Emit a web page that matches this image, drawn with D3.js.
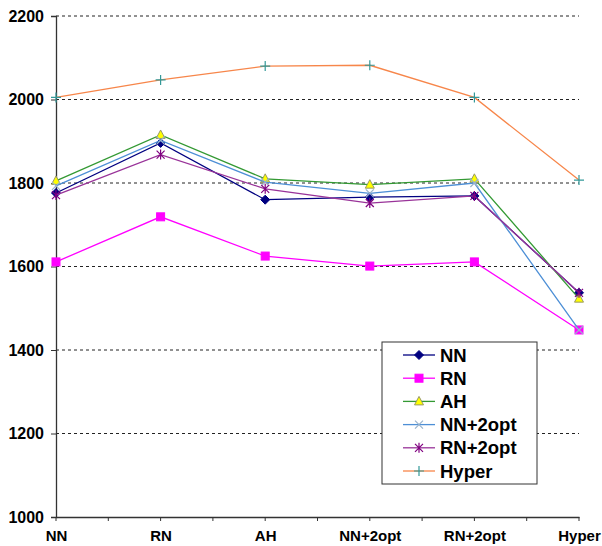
<!DOCTYPE html>
<meta charset="utf-8">
<script src="https://d3js.org/d3.v7.min.js"></script>
<style>
  body { margin: 0; background: #fff; }
  text { font-family: "Liberation Sans", Arial, sans-serif; font-weight: bold; fill: #000; }
</style>
<div id="chart"></div>
<script>
// categories along the x axis
var categories = ["NN", "RN", "AH", "NN+2opt", "RN+2opt", "Hyper"];
var yTicks = [1000, 1200, 1400, 1600, 1800, 2000, 2200];

// series values
var nnVals      = [1776, 1896, 1760, 1766, 1769, 1537];
var rnVals      = [1611, 1719, 1625, 1601, 1611, 1448];
var ahVals      = [1805, 1915, 1810, 1796, 1810, 1523];
var nn2optVals  = [1793, 1902, 1802, 1775, 1800, 1448];
var rn2optVals  = [1771, 1868, 1786, 1752, 1769, 1537];
var hyperVals   = [2005, 2047, 2080, 2082, 2005, 1807];

var series = [
  {name: "NN",      values: nnVals,     line: "#000080", marker: "diamond",  fill: "#000080", stroke: "#000080"},
  {name: "RN",      values: rnVals,     line: "#ff00ff", marker: "square",   fill: "#ff00ff", stroke: "#ff00ff"},
  {name: "AH",      values: ahVals,     line: "#339933", marker: "triangle", fill: "#ffff00", stroke: "#999966"},
  {name: "NN+2opt", values: nn2optVals, line: "#4d8fd6", marker: "x",        fill: "none",    stroke: "#99b3cc"},
  {name: "RN+2opt", values: rn2optVals, line: "#993399", marker: "star",     fill: "none",    stroke: "#800080"},
  {name: "Hyper",   values: hyperVals,  line: "#f7864a", marker: "plus",     fill: "none",    stroke: "#339999"}
];

var W = 602, H = 546;
var mLeft = 56, mRight = 579, mTop = 16, mBottom = 517;

var svg = d3.select("#chart").append("svg")
  .attr("width", W)
  .attr("height", H);

var x = d3.scalePoint()
  .domain(categories)
  .range([mLeft, mRight])
  .padding(0);

var y = d3.scaleLinear()
  .domain([1000, 2200])
  .range([mBottom, mTop]);

// dashed gridlines
svg.append("g")
  .selectAll("line")
  .data(yTicks.filter(function(d) { return d > 1000; }))
  .enter().append("line")
    .attr("x1", mLeft)
    .attr("x2", mRight)
    .attr("y1", function(d) { return y(d); })
    .attr("y2", function(d) { return y(d); })
    .attr("stroke", "#222")
    .attr("stroke-width", 1)
    .attr("stroke-dasharray", "3,3");

// y axis
var yAxis = svg.append("g")
  .attr("transform", "translate(" + mLeft + ",0)")
  .call(d3.axisLeft(y).tickValues(yTicks).tickSize(5).tickPadding(7).tickFormat(d3.format("d")));
yAxis.select(".domain").attr("stroke", "#333").attr("stroke-width", 1.3);
yAxis.selectAll(".tick line").attr("stroke", "#333");
yAxis.selectAll(".tick text").style("font-size", "16px").style("font-family", "Liberation Sans, Arial, sans-serif").style("font-weight", "bold").attr("fill", "#000");

// x axis with ticks on categories and between them
var xAxis = svg.append("g")
  .attr("transform", "translate(0," + mBottom + ")")
  .call(d3.axisBottom(x).tickSize(0).tickPadding(13).tickSizeOuter(0));
xAxis.select(".domain").attr("stroke", "#333").attr("stroke-width", 1.3);
xAxis.selectAll(".tick text").style("font-size", "15px").style("font-family", "Liberation Sans, Arial, sans-serif").style("font-weight", "bold").attr("fill", "#000");

var step = x.step();
var xTickPos = [];
categories.forEach(function(c, i) {
  xTickPos.push(x(c));
  if (i < categories.length - 1) xTickPos.push(x(c) + step / 2);
});
svg.append("g")
  .selectAll("line")
  .data(xTickPos)
  .enter().append("line")
    .attr("x1", function(d) { return d; })
    .attr("x2", function(d) { return d; })
    .attr("y1", mBottom)
    .attr("y2", mBottom + 4)
    .attr("stroke", "#333");

// markers
function drawMarker(g, s, cx, cy) {
  var m = s.marker;
  if (m === "diamond") {
    g.append("path").attr("d", "M" + cx + "," + (cy - 4.5) + "L" + (cx + 4.5) + "," + cy + "L" + cx + "," + (cy + 4.5) + "L" + (cx - 4.5) + "," + cy + "Z")
      .attr("fill", s.fill).attr("stroke", s.stroke);
  } else if (m === "square") {
    g.append("rect").attr("x", cx - 4).attr("y", cy - 4).attr("width", 8).attr("height", 8)
      .attr("fill", s.fill).attr("stroke", s.stroke);
  } else if (m === "triangle") {
    g.append("path").attr("d", "M" + cx + "," + (cy - 5) + "L" + (cx + 4.5) + "," + (cy + 3.5) + "L" + (cx - 4.5) + "," + (cy + 3.5) + "Z")
      .attr("fill", s.fill).attr("stroke", s.stroke);
  } else if (m === "x") {
    g.append("path").attr("d", "M" + (cx - 4) + "," + (cy - 4) + "L" + (cx + 4) + "," + (cy + 4) + "M" + (cx + 4) + "," + (cy - 4) + "L" + (cx - 4) + "," + (cy + 4))
      .attr("stroke", s.stroke).attr("stroke-width", 1.2);
  } else if (m === "star") {
    g.append("path").attr("d", "M" + (cx - 4) + "," + (cy - 4) + "L" + (cx + 4) + "," + (cy + 4) + "M" + (cx + 4) + "," + (cy - 4) + "L" + (cx - 4) + "," + (cy + 4) + "M" + cx + "," + (cy - 5) + "L" + cx + "," + (cy + 5))
      .attr("stroke", s.stroke).attr("stroke-width", 1.2);
  } else if (m === "plus") {
    g.append("path").attr("d", "M" + (cx - 5) + "," + cy + "L" + (cx + 5) + "," + cy + "M" + cx + "," + (cy - 5) + "L" + cx + "," + (cy + 5))
      .attr("stroke", s.stroke).attr("stroke-width", 1.2);
  }
}

var line = d3.line()
  .x(function(d, i) { return x(categories[i]); })
  .y(function(d) { return y(d); });

series.forEach(function(s) {
  var g = svg.append("g");
  g.append("path")
    .datum(s.values)
    .attr("d", line)
    .attr("fill", "none")
    .attr("stroke", s.line)
    .attr("stroke-width", 1.3);
  s.values.forEach(function(v, i) {
    drawMarker(g, s, x(categories[i]), y(v));
  });
});

// legend
var lg = svg.append("g").attr("transform", "translate(382,342)");
lg.append("rect")
  .attr("width", 155)
  .attr("height", 142)
  .attr("fill", "#fff")
  .attr("stroke", "#333")
  .attr("stroke-width", 1);
series.forEach(function(s, i) {
  var ry = 13 + i * 23.2;
  var row = lg.append("g");
  row.append("line")
    .attr("x1", 21).attr("x2", 53)
    .attr("y1", ry).attr("y2", ry)
    .attr("stroke", s.line).attr("stroke-width", 1.3);
  drawMarker(row, s, 37, ry);
  row.append("text")
    .attr("x", 58)
    .attr("y", ry)
    .attr("dy", "0.36em")
    .style("font-size", "18.5px")
    .text(s.name);
});
</script>
